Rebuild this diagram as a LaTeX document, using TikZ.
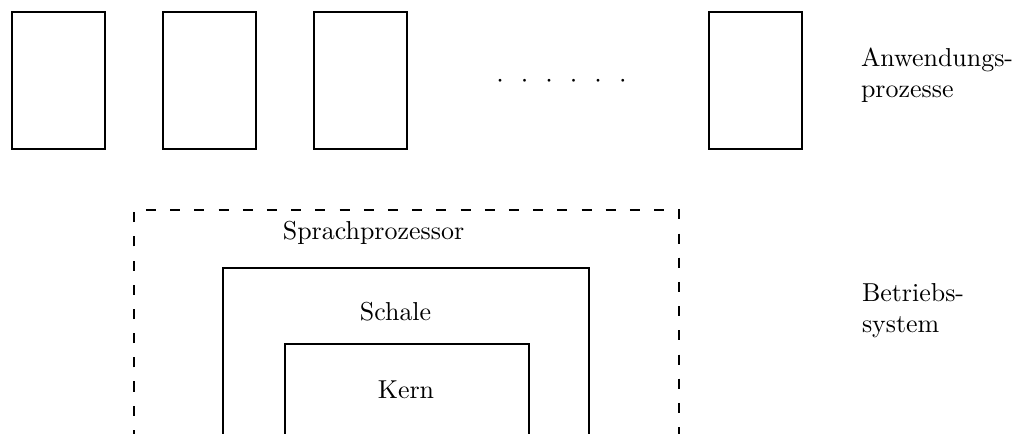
\documentclass[tikz,border=0pt]{standalone}
\begin{document}
\begin{tikzpicture}[x=0.405pt,y=-0.405pt,
  line width=0.8pt,
  font=\fontsize{10.5pt}{12.2pt}\selectfont,
  proc/.style={draw, minimum width=93*0.405pt, minimum height=137*0.405pt, inner sep=0pt},
  lbl/.style={inner sep=0pt, anchor=base},
  side/.style={inner sep=0pt, anchor=base west, align=left},
  dashbox/.style={dash pattern=on 4.1pt off 5.7pt}]
\useasboundingbox (0,0) rectangle (1017,433);
\begin{scope}
\clip (0,0) rectangle (1017,433);
% application processes
\node[proc] (p1) at (58.5,80.5) {};
\node[proc] (p2) at (209.5,80.5) {};
\node[proc] (p3) at (360.5,80.5) {};
\node[proc] (p4) at (755,80.5) {};
\node[inner sep=0pt, anchor=base] (dots) at (561.5,87) {$\cdot$\hspace{6.9pt}$\cdot$\hspace{6.9pt}$\cdot$\hspace{6.9pt}$\cdot$\hspace{6.9pt}$\cdot$\hspace{6.9pt}$\cdot$};
% operating system layers
\coordinate (sbl) at (134,440);
\coordinate (str) at (679,210);
\draw[dashbox] (sbl) |- (str) -- (679,440);
\draw (223,440) |- (589,268) -- (589,440);
\draw (285,440) |- (529,344) -- (529,440);
\end{scope}
\node[lbl] (sp) at (373.5,239) {Sprachprozessor};
\node[lbl] (sh) at (395.5,320) {Schale};
\node[lbl] (ke) at (406,398) {Kern};
\node[side] (anw) at (860,97) {Anwendungs-\\prozesse};
\node[side] (bs) at (861,332) {Betriebs-\\system};
\end{tikzpicture}
\end{document}
